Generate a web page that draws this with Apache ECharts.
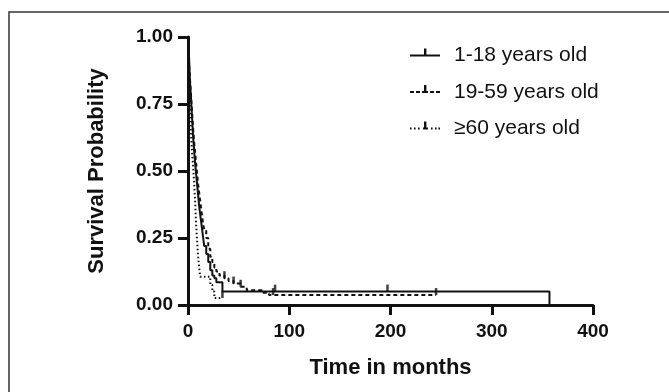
<!DOCTYPE html>
<html>
<head>
<meta charset="utf-8">
<script src="https://cdn.jsdelivr.net/npm/echarts@6/dist/echarts.min.js"></script>
<style>
  html, body { margin: 0; padding: 0; background: #fff; }
  #chart { width: 669px; height: 392px; }
</style>
</head>
<body>
<div id="chart"></div>
<script>
// Kaplan-Meier steps: [month, survival]
const young = [
  [0, 1.0], [0.5, 0.97], [1, 0.93], [1.5, 0.88], [2, 0.83], [3, 0.77], [4, 0.7],
  [5, 0.63], [6, 0.58], [7, 0.53], [8, 0.49], [9, 0.45], [10, 0.41], [11, 0.37],
  [12, 0.34], [13, 0.31], [14, 0.28], [15, 0.25], [16, 0.22], [18, 0.19], [20, 0.16],
  [22, 0.13], [24, 0.11], [26, 0.1], [28, 0.085], [34, 0.05], [357, 0]
]
const adult = [
  [0, 1.0], [0.5, 0.96], [1, 0.9], [2, 0.84], [3, 0.78], [4, 0.72], [5, 0.66],
  [6, 0.61], [7, 0.57], [8, 0.53], [9, 0.49], [10, 0.45], [11, 0.42], [12, 0.39],
  [13, 0.36], [14, 0.33], [15, 0.3], [16, 0.28], [18, 0.25], [20, 0.21], [22, 0.18],
  [24, 0.16], [26, 0.14], [28, 0.125], [31, 0.11], [36, 0.1], [40, 0.09], [45, 0.08],
  [52, 0.068], [58, 0.055], [73, 0.046], [80, 0.037], [245, 0.037]
]
const elderly = [
  [0, 1.0], [0.5, 0.93], [1, 0.85], [1.5, 0.78], [2, 0.72], [3, 0.64], [4, 0.57],
  [5, 0.52], [6, 0.46], [7, 0.39], [8, 0.3], [9, 0.24], [10, 0.18], [11, 0.14],
  [12, 0.105], [22, 0.075], [24, 0.05], [26, 0.026], [34, 0.026]
]
// censored observations
const youngCensor = [[86, 0.05], [197, 0.05]]
const adultCensor = [[36, 0.1], [45, 0.08], [52, 0.068], [84, 0.037], [245, 0.037]]
const elderlyCensor = [[34, 0.026]]

const groupNames = ['1-18 years old', '19-59 years old', '≥60 years old']
const xTicks = [0, 100, 200, 300, 400]
const yTicks = [0, 0.25, 0.5, 0.75, 1]

const ink = '#111'
const dashes = ['solid', [4, 3], [1.5, 2.5]]

// legend keys: line sample with a censor tick, in a 30 x 14 box (line sits in the middle)
const pad = ' M0,13.99h0.01v0.01h-0.01z'
const legendIcons = [
  'path://M0,6h30v2h-30z M14,0h2.4v6h-2.4z' + pad,
  'path://M0,6h4v2h-4z M6,6h4v2h-4z M12,6h6v2h-6z M20,6h4v2h-4z M26,6h4v2h-4z M14,0h2.4v6h-2.4z' + pad,
  'path://M0,6h1.6v2h-1.6z M4,6h1.6v2h-1.6z M8,6h1.6v2h-1.6z M13,6h5v2h-5z M14,0h2.4v6h-2.4z M21,6h1.6v2h-1.6z M25,6h1.6v2h-1.6z M28.4,6h1.6v2h-1.6z' + pad
]

const chart = echarts.init(document.getElementById('chart'), null, { renderer: 'canvas' })

const curve = (name, data, type) => ({
  name,
  type: 'line',
  step: 'end',
  data,
  showSymbol: false,
  itemStyle: { color: ink },
  lineStyle: { color: ink, width: 2, type },
  animation: false,
  z: 3
})

const censor = (data) => ({
  type: 'scatter',
  data,
  symbol: 'rect',
  symbolSize: [2.5, 7],
  symbolOffset: [0, -3.5],
  itemStyle: { color: ink },
  silent: true,
  animation: false,
  z: 4
})

chart.setOption({
  backgroundColor: '#fff',
  animation: false,
  graphic: [{
    type: 'rect',
    shape: { x: 9, y: 12, width: 700, height: 420 },
    style: { fill: 'none', stroke: '#333', lineWidth: 1.5 },
    silent: true
  }],
  grid: { left: 188, right: 76, top: 37, bottom: 87 },
  legend: {
    orient: 'vertical',
    left: 405,
    top: 40,
    itemWidth: 30,
    itemHeight: 14,
    itemGap: 15.5,
    symbolKeepAspect: true,
    data: groupNames.map((name, i) => ({ name, icon: legendIcons[i] })),
    textStyle: { fontFamily: 'Arial, Liberation Sans', fontSize: 21, color: ink, padding: [0, 0, 0, 9] }
  },
  xAxis: {
    type: 'value',
    min: xTicks[0],
    max: xTicks[xTicks.length - 1],
    interval: 100,
    name: 'Time in months',
    nameLocation: 'middle',
    nameGap: 52,
    nameTextStyle: { fontFamily: 'Arial, Liberation Sans', fontSize: 22, fontWeight: 'bold', color: ink },
    axisLine: { lineStyle: { color: ink, width: 3 } },
    axisTick: { length: 10, lineStyle: { color: ink, width: 3 } },
    axisLabel: { fontFamily: 'Arial, Liberation Sans', fontSize: 19, fontWeight: 'bold', color: ink, margin: 17 },
    splitLine: { show: false }
  },
  yAxis: {
    type: 'value',
    min: yTicks[0],
    max: yTicks[yTicks.length - 1],
    interval: 0.25,
    name: 'Survival Probability',
    nameLocation: 'middle',
    nameGap: 80,
    nameRotate: 90,
    nameTextStyle: { fontFamily: 'Arial, Liberation Sans', fontSize: 22, fontWeight: 'bold', color: ink },
    axisLine: { show: true, lineStyle: { color: ink, width: 3 } },
    axisTick: { show: true, length: 10, lineStyle: { color: ink, width: 3 } },
    axisLabel: {
      fontFamily: 'Arial, Liberation Sans', fontSize: 19, fontWeight: 'bold', color: ink, margin: 15,
      formatter: v => v.toFixed(2)
    },
    splitLine: { show: false }
  },
  series: [
    curve(groupNames[0], young, dashes[0]),
    curve(groupNames[1], adult, dashes[1]),
    curve(groupNames[2], elderly, dashes[2]),
    censor(youngCensor),
    censor(adultCensor),
    censor(elderlyCensor)
  ]
})
</script>
</body>
</html>
